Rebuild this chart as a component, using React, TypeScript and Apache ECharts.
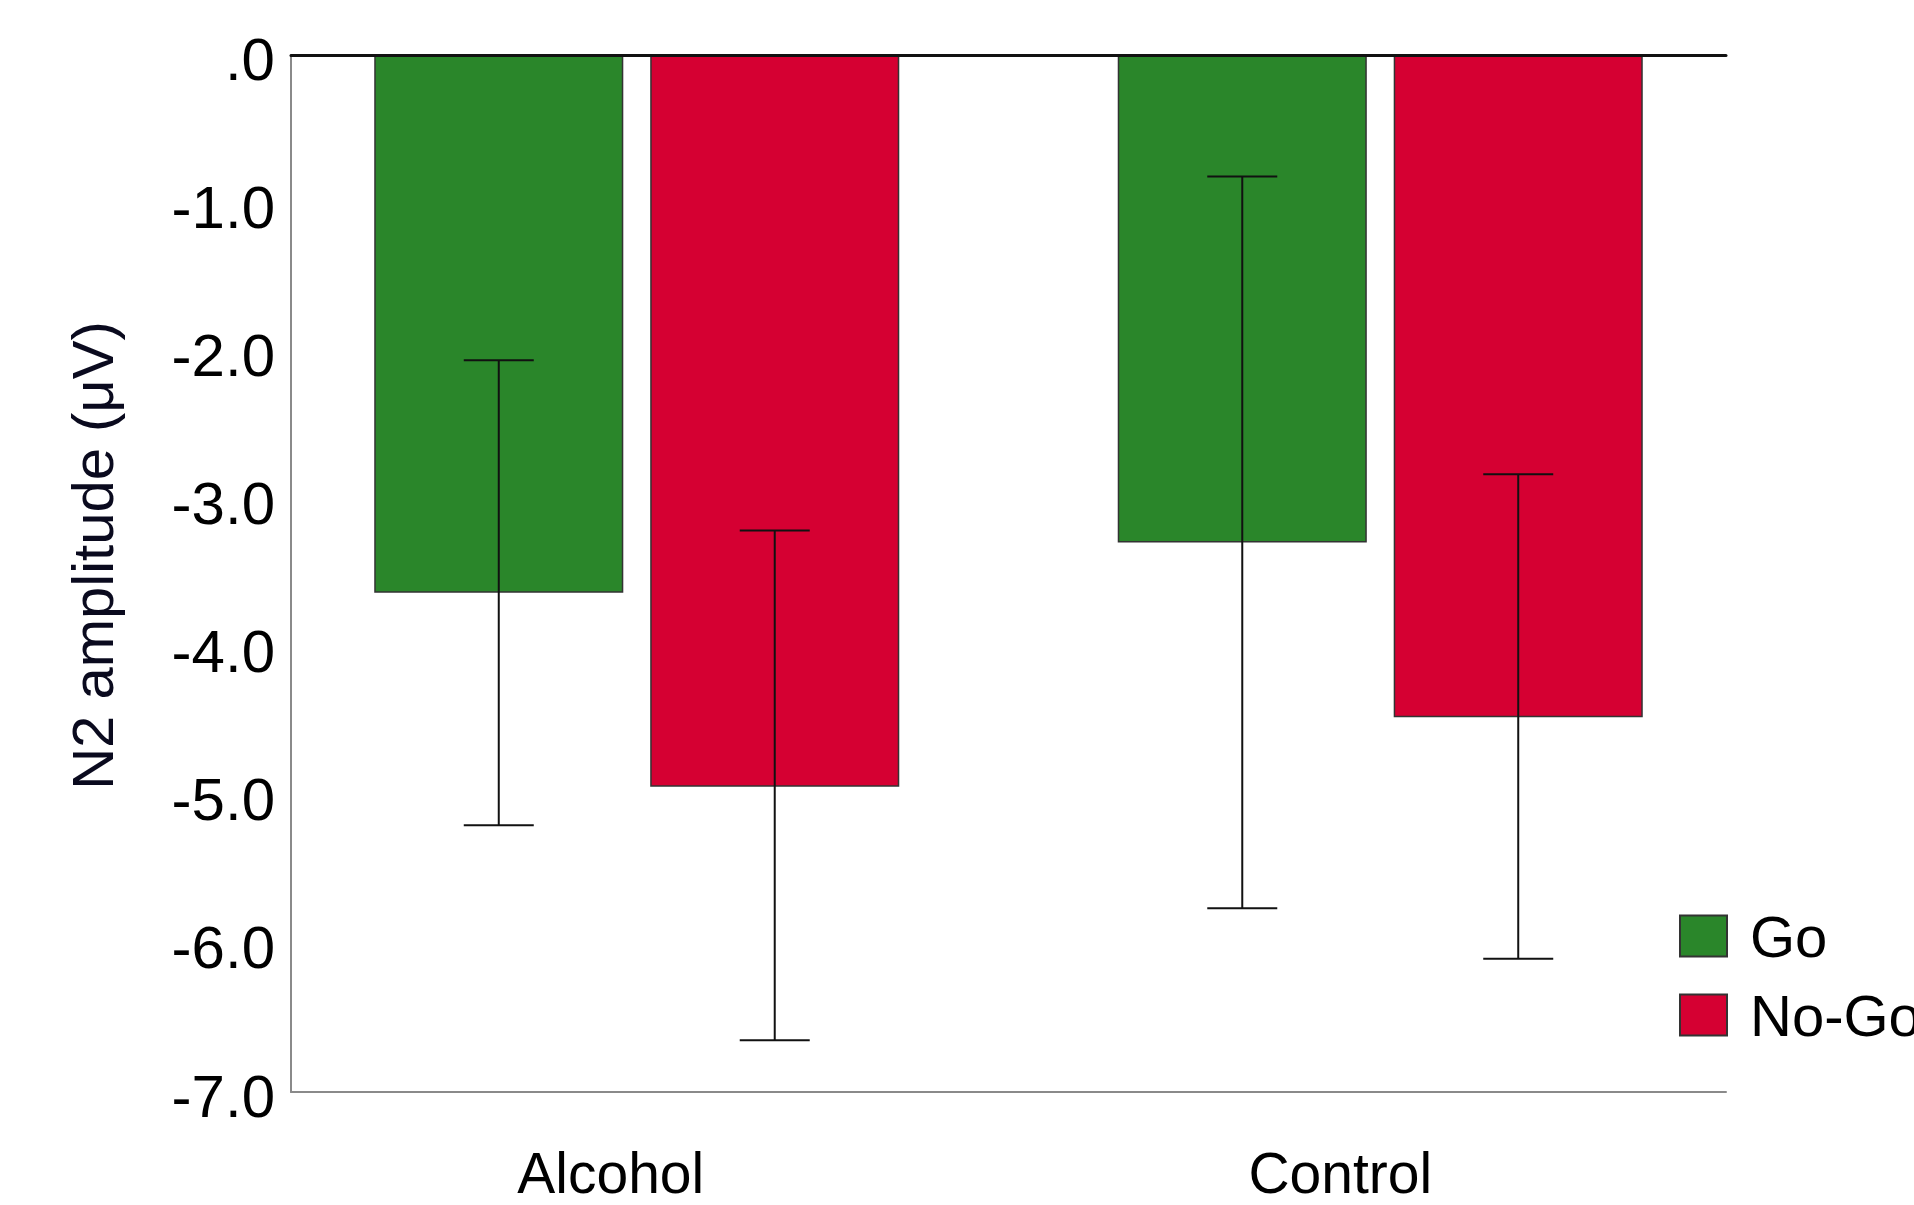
import React, { useEffect, useRef } from "react";
import * as echarts from "echarts";

const categories = ["Alcohol", "Control"];
const groups = ["Go", "No-Go"];
const goMean = [-3.63, -3.29];
const noGoMean = [-4.94, -4.47];
const goLow = [-5.2, -5.76];
const goHigh = [-2.06, -0.82];
const noGoLow = [-6.65, -6.1];
const noGoHigh = [-3.21, -2.83];
const yTicks = [0, -1, -2, -3, -4, -5, -6, -7];

const GREEN = "#2a862a";
const RED = "#d50032";
const FONT = "'Liberation Sans', Arial, sans-serif";
const BAR_FRAC = 0.335;
const GAP_FRAC = 0.108;

function errorSeries(name: string, lows: number[], highs: number[], sign: number) {
  return {
    type: "custom",
    name,
    xAxisIndex: 0,
    yAxisIndex: 0,
    z: 10,
    silent: true,
    encode: { x: 0, y: [1, 2] },
    data: categories.map((_, i) => [i, lows[i], highs[i]]),
    renderItem: (params: any, api: any) => {
      const cat = api.value(0);
      const lo = api.value(1);
      const hi = api.value(2);
      const catW = api.size([1, 0])[0];
      const bw = catW * BAR_FRAC;
      const off = sign * (bw + bw * GAP_FRAC) / 2;
      const pLo = api.coord([cat, lo]);
      const pHi = api.coord([cat, hi]);
      const x = pLo[0] + off;
      const cap = 35;
      const style = { stroke: "#111", lineWidth: 2 };
      return {
        type: "group",
        children: [
          { type: "line", shape: { x1: x, y1: pLo[1], x2: x, y2: pHi[1] }, style },
          { type: "line", shape: { x1: x - cap, y1: pLo[1], x2: x + cap, y2: pLo[1] }, style },
          { type: "line", shape: { x1: x - cap, y1: pHi[1], x2: x + cap, y2: pHi[1] }, style },
        ],
      };
    },
  };
}

export default function App() {
  const ref = useRef<HTMLDivElement>(null);
  useEffect(() => {
    if (!ref.current) return;
    const chart = echarts.init(ref.current, undefined, { renderer: "svg" });
    const labelShift: Record<string, number> = { Alcohol: 52, Control: 80 };
    chart.setOption({
      animation: false,
      backgroundColor: "#ffffff",
      textStyle: { fontFamily: FONT },
      grid: [
        { left: 265, right: 162, top: 55, bottom: 113 },
        { left: 291, right: 188, top: 55, bottom: 113 },
      ],
      xAxis: [
        {
          type: "category",
          gridIndex: 0,
          data: categories,
          axisLine: { show: false },
          axisTick: { show: false },
          axisLabel: {
            margin: 52,
            fontSize: 57,
            color: "#000",
            fontFamily: FONT,
            formatter: (v: string) => `{${v === "Alcohol" ? "a" : "b"}|${v}}`,
            rich: {
              a: { fontSize: 57, color: "#000", fontFamily: FONT, padding: [0, labelShift.Alcohol, 0, 0] },
              b: { fontSize: 57, color: "#000", fontFamily: FONT, padding: [0, labelShift.Control, 0, 0] },
            },
          },
        },
        {
          type: "category",
          gridIndex: 1,
          data: categories,
          position: "bottom",
          axisLine: { show: true, onZero: false, lineStyle: { color: "#8a8a8a", width: 2 } },
          axisTick: { show: false },
          axisLabel: { show: false },
        },
        {
          type: "category",
          gridIndex: 1,
          data: categories,
          position: "top",
          axisLine: { show: true, onZero: true, lineStyle: { color: "#111", width: 3 } },
          axisTick: { show: false },
          axisLabel: { show: false },
          z: 20,
        },
      ],
      yAxis: [
        { type: "value", gridIndex: 0, min: -7, max: 0, interval: 1, show: false },
        {
          type: "value",
          gridIndex: 1,
          min: -7,
          max: 0,
          interval: 1,
          axisLine: { show: true, lineStyle: { color: "#8a8a8a", width: 2 } },
          axisTick: { show: false },
          splitLine: { show: false },
          axisLabel: {
            margin: 16,
            fontSize: 60,
            color: "#000",
            fontFamily: FONT,
            verticalAlign: "top",
            lineHeight: 8,
            formatter: (v: number) => (yTicks.indexOf(v) >= 0 ? (v === 0 ? ".0" : v.toFixed(1)) : ""),
          },
          name: "N2 amplitude (μV)",
          nameLocation: "middle",
          nameGap: 170,
          nameTextStyle: { fontSize: 58, color: "#0a0a1e", fontFamily: FONT, padding: [0, 0, 0, 36] },
        },
      ],
      legend: {
        orient: "vertical",
        left: 1679,
        top: 907,
        padding: 0,
        itemWidth: 47,
        itemHeight: 41,
        itemGap: 21,
        icon: "rect",
        data: groups,
        itemStyle: { borderColor: "#333", borderWidth: 2 },
        textStyle: { fontSize: 58, color: "#000", fontFamily: FONT, padding: [0, 0, 0, 18] },
      },
      series: [
        {
          type: "bar",
          name: groups[0],
          xAxisIndex: 0,
          yAxisIndex: 0,
          data: goMean,
          barWidth: `${BAR_FRAC * 100}%`,
          barGap: `${GAP_FRAC * 100}%`,
          itemStyle: { color: GREEN, borderColor: "#333", borderWidth: 1.5 },
        },
        {
          type: "bar",
          name: groups[1],
          xAxisIndex: 0,
          yAxisIndex: 0,
          data: noGoMean,
          barWidth: `${BAR_FRAC * 100}%`,
          barGap: `${GAP_FRAC * 100}%`,
          itemStyle: { color: RED, borderColor: "#333", borderWidth: 1.5 },
        },
        errorSeries("Go error", goLow, goHigh, -1),
        errorSeries("No-Go error", noGoLow, noGoHigh, 1),
      ],
    });
    return () => chart.dispose();
  }, []);
  return (
    <div
      ref={ref}
      style={{ position: "fixed", left: 0, top: 0, width: 1914, height: 1205, background: "#fff" }}
    />
  );
}
